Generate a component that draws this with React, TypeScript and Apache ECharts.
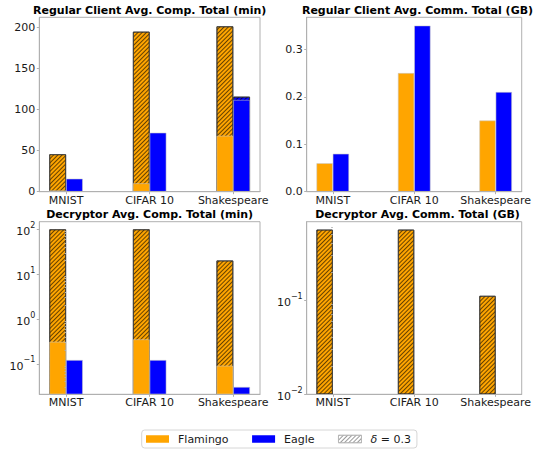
import React, { useEffect, useRef } from 'react';
import * as echarts from 'echarts';

// Datasets on the x axis
const categories = ['MNIST', 'CIFAR 10', 'Shakespeare'];

// Regular client: average computation time in minutes (solid = base, hatched = with δ = 0.3)
const clientCompFlamingo = [1.5, 10.2, 68];
const clientCompFlamingoDelta = [45.5, 194.5, 201];
const clientCompEagle = [15.8, 71.7, 111.5];
const clientCompEagleDelta: (number | null)[] = [null, null, 115.5];

// Regular client: average communication in GB
const clientCommFlamingo = [0.06, 0.25, 0.15];
const clientCommEagle = [0.08, 0.35, 0.21];

// Decryptor: average computation time in minutes (log scale)
const decCompFlamingo = [0.311, 0.352, 0.091];
const decCompFlamingoDelta = [100, 100, 20.2];
const decCompEagle = [0.122, 0.122, 0.0306];

// Decryptor: average communication in GB (log scale), only Flamingo with δ = 0.3
const decCommFlamingoDelta = [0.56, 0.56, 0.111];

// Tick positions
const clientCompTicks = [0, 50, 100, 150, 200];
const clientCommTicks = [0, 0.1, 0.2, 0.3];
const decCompTicks = [0.1, 1, 10, 100];
const decCommTicks = [0.01, 0.1];

const titles = [
  'Regular Client Avg. Comp. Total (min)',
  'Regular Client Avg. Comm. Total (GB)',
  'Decryptor Avg. Comp. Total (min)',
  'Decryptor Avg. Comm. Total (GB)',
];

const FONT = 'DejaVu Sans';
const ORANGE = '#FFA500';
const BLUE = '#0000FF';
const SPINE = '#b0b0b0';
const TEXT = '#1a1a1a';
const DELTA = 'δ = 0.3';

const hatch = (color: string) => ({
  symbol: 'rect',
  symbolSize: 1,
  dashArrayX: [1, 0],
  dashArrayY: [1, 2],
  rotation: -Math.PI / 4,
  color,
});

const toPoints = (values: (number | null)[]) =>
  values.map((v, i) => (v == null ? null : [i, v])).filter((p) => p !== null);

// minor ticks at 2..9 × 10^k inside [lo, hi]
const logMinor = (lo: number, hi: number) => {
  const out: number[] = [];
  for (let k = Math.floor(Math.log10(lo)); k <= Math.ceil(Math.log10(hi)); k++) {
    for (let m = 2; m <= 9; m++) {
      const v = m * Math.pow(10, k);
      if (v > lo && v < hi) out.push(v);
    }
  }
  return out;
};

const supLabel = (v: number) => {
  const e = Math.log10(v);
  const r = Math.round(e);
  if (Math.abs(e - r) > 1e-6) return '';
  return `{b|10}{s|${r < 0 ? '\u2212' + -r : r}}`;
};

const grids = [
  { left: 39.3, top: 17.3, width: 220.7, height: 174.4 },
  { left: 306.7, top: 17.3, width: 221.6, height: 174.4 },
  { left: 39.3, top: 221.7, width: 220.7, height: 172.6 },
  { left: 306.7, top: 221.7, width: 221.6, height: 172.6 },
];

const labelStyle = { fontFamily: FONT, fontSize: 11, color: TEXT };

function buildOption() {
  const xAxis: any[] = [];
  grids.forEach((_, g) => {
    xAxis.push({
      type: 'value',
      gridIndex: g,
      min: -0.32,
      max: 2.32,
      z: 5,
      axisLine: { show: true, onZero: false, lineStyle: { color: SPINE, width: 1 } },
      axisTick: { show: true, length: 2.5, customValues: [0, 1, 2], lineStyle: { color: SPINE } },
      axisLabel: {
        ...labelStyle,
        margin: 3,
        customValues: [0, 1, 2],
        formatter: (v: number) => categories[Math.round(v)] ?? '',
      },
      splitLine: { show: false },
    });
    xAxis.push({ type: 'value', gridIndex: g, min: -0.32, max: 2.32, show: false, splitLine: { show: false } });
  });

  const yBase = {
    z: 5,
    position: 'left',
    axisLine: { show: true, onZero: false, lineStyle: { color: SPINE, width: 1 } },
    axisTick: { show: true, length: 2.5, lineStyle: { color: SPINE } },
    splitLine: { show: false },
  };
  const supRich = {
    b: { fontFamily: FONT, fontSize: 11, color: TEXT, lineHeight: 16, verticalAlign: 'bottom' },
    s: { fontFamily: FONT, fontSize: 8, color: TEXT, lineHeight: 9, verticalAlign: 'top' },
  };

  const yAxis: any[] = [
    {
      ...yBase,
      type: 'value',
      gridIndex: 0,
      min: 0,
      max: 212,
      axisTick: { ...yBase.axisTick, customValues: clientCompTicks },
      axisLabel: { ...labelStyle, margin: 4, customValues: clientCompTicks, formatter: (v: number) => String(v) },
    },
    {
      ...yBase,
      type: 'value',
      gridIndex: 1,
      min: 0,
      max: 0.3675,
      axisTick: { ...yBase.axisTick, customValues: clientCommTicks },
      axisLabel: { ...labelStyle, margin: 4, customValues: clientCommTicks, formatter: (v: number) => v.toFixed(1) },
    },
    {
      ...yBase,
      type: 'log',
      logBase: 10,
      gridIndex: 2,
      min: 0.021,
      max: 148,
      startValue: 0.021,
      axisTick: { ...yBase.axisTick, customValues: decCompTicks },
      axisLabel: { ...labelStyle, margin: 4, customValues: decCompTicks, formatter: supLabel, rich: supRich },
    },
    {
      ...yBase,
      type: 'log',
      logBase: 10,
      gridIndex: 3,
      min: 0.01,
      max: 0.68,
      startValue: 0.01,
      axisTick: { ...yBase.axisTick, customValues: decCommTicks },
      axisLabel: { ...labelStyle, margin: 4, customValues: decCommTicks, formatter: supLabel, rich: supRich },
    },
    // minor ticks of the log axes
    {
      type: 'log', logBase: 10, gridIndex: 2, min: 0.021, max: 148, position: 'left', offset: 0, z: 5,
      axisLine: { show: false }, axisLabel: { show: false }, splitLine: { show: false },
      axisTick: { show: true, length: 1.5, customValues: logMinor(0.021, 148), lineStyle: { color: SPINE } },
    },
    {
      type: 'log', logBase: 10, gridIndex: 3, min: 0.01, max: 0.68, position: 'left', offset: 0, z: 5,
      axisLine: { show: false }, axisLabel: { show: false }, splitLine: { show: false },
      axisTick: { show: true, length: 1.5, customValues: logMinor(0.01, 0.68), lineStyle: { color: SPINE } },
    },
  ];

  const hatched = (color: string, values: (number | null)[], g: number) => ({
    type: 'bar',
    name: DELTA,
    xAxisIndex: g * 2,
    yAxisIndex: g,
    barWidth: '20%',
    barGap: 0,
    z: 2,
    data: toPoints(values),
    itemStyle: { color, borderColor: '#3a3a3a', borderWidth: 0.8, decal: hatch('rgba(0,0,0,0.6)') },
  });
  const solid = (name: string, color: string, values: number[], g: number) => ({
    type: 'bar',
    name,
    xAxisIndex: g * 2 + 1,
    yAxisIndex: g,
    barWidth: '20%',
    barGap: 0,
    z: 3,
    data: toPoints(values),
    itemStyle: { color, borderColor: 'rgba(200,200,200,0.9)', borderWidth: 0.6 },
  });

  const series: any[] = [
    hatched(ORANGE, clientCompFlamingoDelta, 0),
    hatched(BLUE, clientCompEagleDelta, 0),
    solid('Flamingo', ORANGE, clientCompFlamingo, 0),
    solid('Eagle', BLUE, clientCompEagle, 0),

    solid('Flamingo', ORANGE, clientCommFlamingo, 1),
    solid('Eagle', BLUE, clientCommEagle, 1),

    hatched(ORANGE, decCompFlamingoDelta, 2),
    hatched(BLUE, [null, null, null], 2),
    solid('Flamingo', ORANGE, decCompFlamingo, 2),
    solid('Eagle', BLUE, decCompEagle, 2),

    hatched(ORANGE, decCommFlamingoDelta, 3),
    hatched(BLUE, [null, null, null], 3),
  ];

  const title = grids.map((gr, i) => ({
    text: titles[i],
    left: gr.left + gr.width / 2,
    top: i < 2 ? 4.5 : 209,
    textAlign: 'center',
    padding: 0,
    textStyle: { fontFamily: FONT, fontSize: 11, fontWeight: 'bold', color: '#000' },
  }));

  return {
    animation: false,
    backgroundColor: '#fff',
    title,
    grid: grids.map((gr) => ({ ...gr, show: true, borderColor: SPINE, borderWidth: 1, backgroundColor: 'transparent' })),
    xAxis,
    yAxis,
    series,
    legend: {
      left: 141.7,
      top: 430,
      orient: 'horizontal',
      selectedMode: false,
      padding: [3.5, 6, 3.5, 4.3],
      itemGap: 23.5,
      itemWidth: 23,
      itemHeight: 7.5,
      icon: 'rect',
      borderColor: '#d6d6d6',
      borderWidth: 1,
      borderRadius: 3,
      textStyle: {
        ...labelStyle,
        padding: [0, 0, 0, 4],
        rich: {
          i: { fontFamily: FONT, fontSize: 11, fontStyle: 'italic', color: TEXT },
          n: { fontFamily: FONT, fontSize: 11, color: TEXT },
        },
      },
      formatter: (name: string) => (name === DELTA ? '{i|δ}{n| = 0.3}' : name),
      data: [
        { name: 'Flamingo', itemStyle: { borderWidth: 0 } },
        { name: 'Eagle', itemStyle: { borderWidth: 0 } },
        {
          name: DELTA,
          itemStyle: { color: '#fff', borderColor: '#b5b5b5', borderWidth: 0.8, decal: hatch('#9a9a9a') },
        },
      ],
    },
  };
}

export default function App() {
  const ref = useRef<HTMLDivElement>(null);
  useEffect(() => {
    if (!ref.current) return;
    const chart = echarts.init(ref.current, undefined, { renderer: 'svg' });
    chart.setOption(buildOption() as any);
    return () => chart.dispose();
  }, []);
  return (
    <div
      ref={ref}
      style={{ position: 'absolute', left: 0, top: 0, width: 534, height: 452, background: '#fff' }}
    />
  );
}
